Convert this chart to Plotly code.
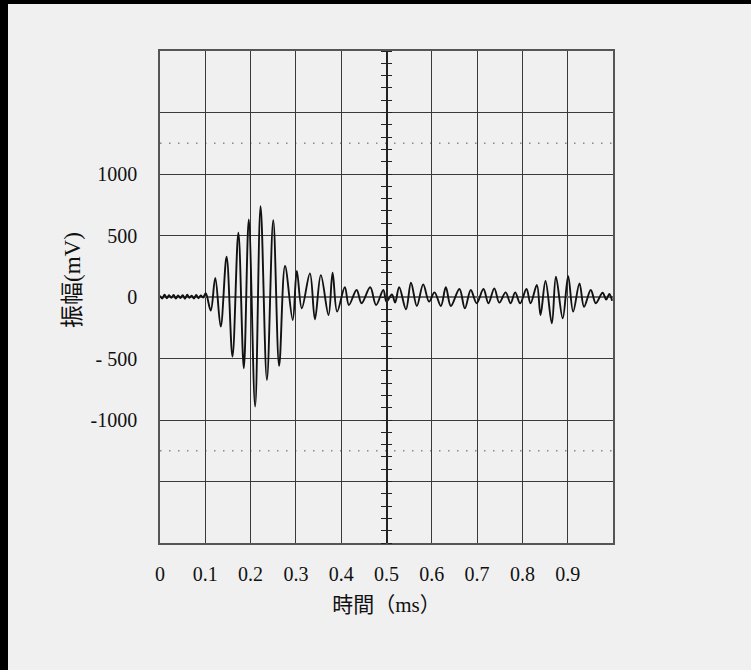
import plotly.graph_objects as go

# Waveform samples: time (ms) and amplitude (mV), read at turning points
time_ms = [
    0.000, 0.005, 0.010, 0.015, 0.020, 0.025, 0.030, 0.035, 0.040, 0.045,
    0.050, 0.055, 0.060, 0.065, 0.070, 0.075, 0.080, 0.085, 0.090, 0.095,
    0.101, 0.112, 0.122, 0.134, 0.147, 0.160, 0.173, 0.185, 0.196, 0.210,
    0.222, 0.236, 0.250, 0.263, 0.276, 0.293, 0.302, 0.313, 0.331, 0.342,
    0.355, 0.372, 0.381, 0.391, 0.408, 0.417, 0.434, 0.445, 0.464, 0.477,
    0.493, 0.500, 0.512, 0.519, 0.528, 0.543, 0.554, 0.567, 0.581, 0.594,
    0.606, 0.620, 0.631, 0.642, 0.661, 0.673, 0.686, 0.699, 0.714, 0.725,
    0.738, 0.749, 0.763, 0.774, 0.784, 0.795, 0.809, 0.818, 0.832, 0.840,
    0.851, 0.865, 0.874, 0.889, 0.901, 0.912, 0.926, 0.936, 0.951, 0.962,
    0.977, 0.985, 0.992, 0.998,
]
amplitude_mv = [
    10, -12, 18, -10, 14, -6, 16, -12, 12, -8,
    15, -14, 18, -6, 10, -12, 16, -10, 12, -4,
    30, -110, 155, -241, 327, -484, 522, -579, 630, -890,
    739, -674, 625, -560, 252, -187, 211, -92, 192, -181,
    178, -146, 197, -119, 79, -65, 57, -51, 79, -65,
    57, -38, 20, -45, 79, -100, 116, -73, 103, -38,
    38, -73, 79, -73, 65, -92, 57, -51, 65, -51,
    70, -46, 38, -51, 38, -51, 65, -51, 97, -146,
    130, -214, 165, -173, 170, -119, 111, -79, 57, -51,
    35, -20, 25, -30,
]

# Axis ticks
x_ticks = [0, 0.1, 0.2, 0.3, 0.4, 0.5, 0.6, 0.7, 0.8, 0.9, 1.0]
x_tick_text = ["0", "0.1", "0.2", "0.3", "0.4", "0.5", "0.6", "0.7", "0.8", "0.9", ""]
y_ticks = [-2000, -1500, -1000, -500, 0, 500, 1000, 1500, 2000]
y_tick_text = ["", "", "-1000", "- 500", "0", "500", "1000", "", ""]

# Dotted reference levels (mV)
ref_levels = [1250, -1250]

BG = "#f0f0f0"
GRID = "#3a3a3a"
NUM_FONT = "Liberation Serif, Noto Sans CJK TC, serif"

fig = go.Figure()

fig.add_trace(go.Scatter(
    x=time_ms, y=amplitude_mv, mode="lines",
    line=dict(color="#111111", width=1.9, shape="spline", smoothing=1.0),
    showlegend=False, hoverinfo="skip",
))

# Dummy traces so that the centre scale axes are drawn
for ax in ("y2", "y3"):
    fig.add_trace(go.Scatter(x=[None], y=[None], yaxis=ax, showlegend=False))

for lvl in ref_levels:
    fig.add_shape(type="line", xref="paper", x0=0, x1=1, yref="y", y0=lvl, y1=lvl,
                  line=dict(color="#8a8a8a", width=1.5, dash="1.5px,7.5px"), layer="below")

# Plot area in pixels: x 160..613, y 51..543
L, R, T, B = 160, 138, 51, 127
W, H = 751, 670
pw, ph = W - L - R, H - T - B

def px_x(p):
    return (p - L) / pw

def px_y(p):
    return (H - B - p) / ph

# Dark frame at the top and left of the page
fig.add_shape(type="rect", xref="paper", yref="paper",
              x0=px_x(0), x1=px_x(8), y0=px_y(H), y1=px_y(0),
              fillcolor="black", line=dict(width=0), layer="above")
fig.add_shape(type="rect", xref="paper", yref="paper",
              x0=px_x(0), x1=px_x(W), y0=px_y(4), y1=px_y(0),
              fillcolor="black", line=dict(width=0), layer="above")

fig.update_layout(
    width=W, height=H,
    margin=dict(l=L, r=R, t=T, b=B),
    paper_bgcolor=BG, plot_bgcolor=BG,
    xaxis=dict(
        range=[0, 1.0], tickmode="array", tickvals=x_ticks, ticktext=x_tick_text,
        showgrid=True, gridcolor=GRID, gridwidth=1,
        showline=True, linecolor="#555555", linewidth=1.5, mirror=True,
        zeroline=False, ticks="outside", ticklen=12, tickcolor="rgba(0,0,0,0)",
        tickfont=dict(family=NUM_FONT, size=20, color="#111111"),
        title=dict(text="時間（ms）", standoff=14,
                   font=dict(family=NUM_FONT, size=21, color="#111111")),
    ),
    yaxis=dict(
        range=[-2000, 2000], tickmode="array", tickvals=y_ticks, ticktext=y_tick_text,
        showgrid=True, gridcolor=GRID, gridwidth=1,
        showline=True, linecolor="#555555", linewidth=1.5, mirror=True,
        zeroline=True, zerolinecolor="#6a6a6a", zerolinewidth=2,
        ticks="outside", ticklen=17, tickcolor="rgba(0,0,0,0)",
        tickfont=dict(family=NUM_FONT, size=20, color="#111111"),
    ),
    # Centre scale at 0.5 ms with 100 mV ticks on both sides
    yaxis2=dict(
        overlaying="y", anchor="free", position=0.5, range=[-2000, 2000],
        dtick=100, tick0=0, ticks="outside", ticklen=4.5, tickwidth=1.2, tickcolor="#222222",
        showticklabels=False, showgrid=False, zeroline=False,
        showline=True, linecolor="#222222", linewidth=1.5,
    ),
    yaxis3=dict(
        overlaying="y", anchor="free", position=0.5, range=[-2000, 2000], side="right",
        dtick=100, tick0=0, ticks="outside", ticklen=4.5, tickwidth=1.2, tickcolor="#222222",
        showticklabels=False, showgrid=False, zeroline=False, showline=False,
    ),
)

fig.add_annotation(
    text="振幅(mV)", textangle=-90, xref="paper", yref="paper",
    x=px_x(72), y=px_y(280), xanchor="center", yanchor="middle", showarrow=False,
    font=dict(family=NUM_FONT, size=23, color="#111111"),
)

fig.write_html("out.html")
